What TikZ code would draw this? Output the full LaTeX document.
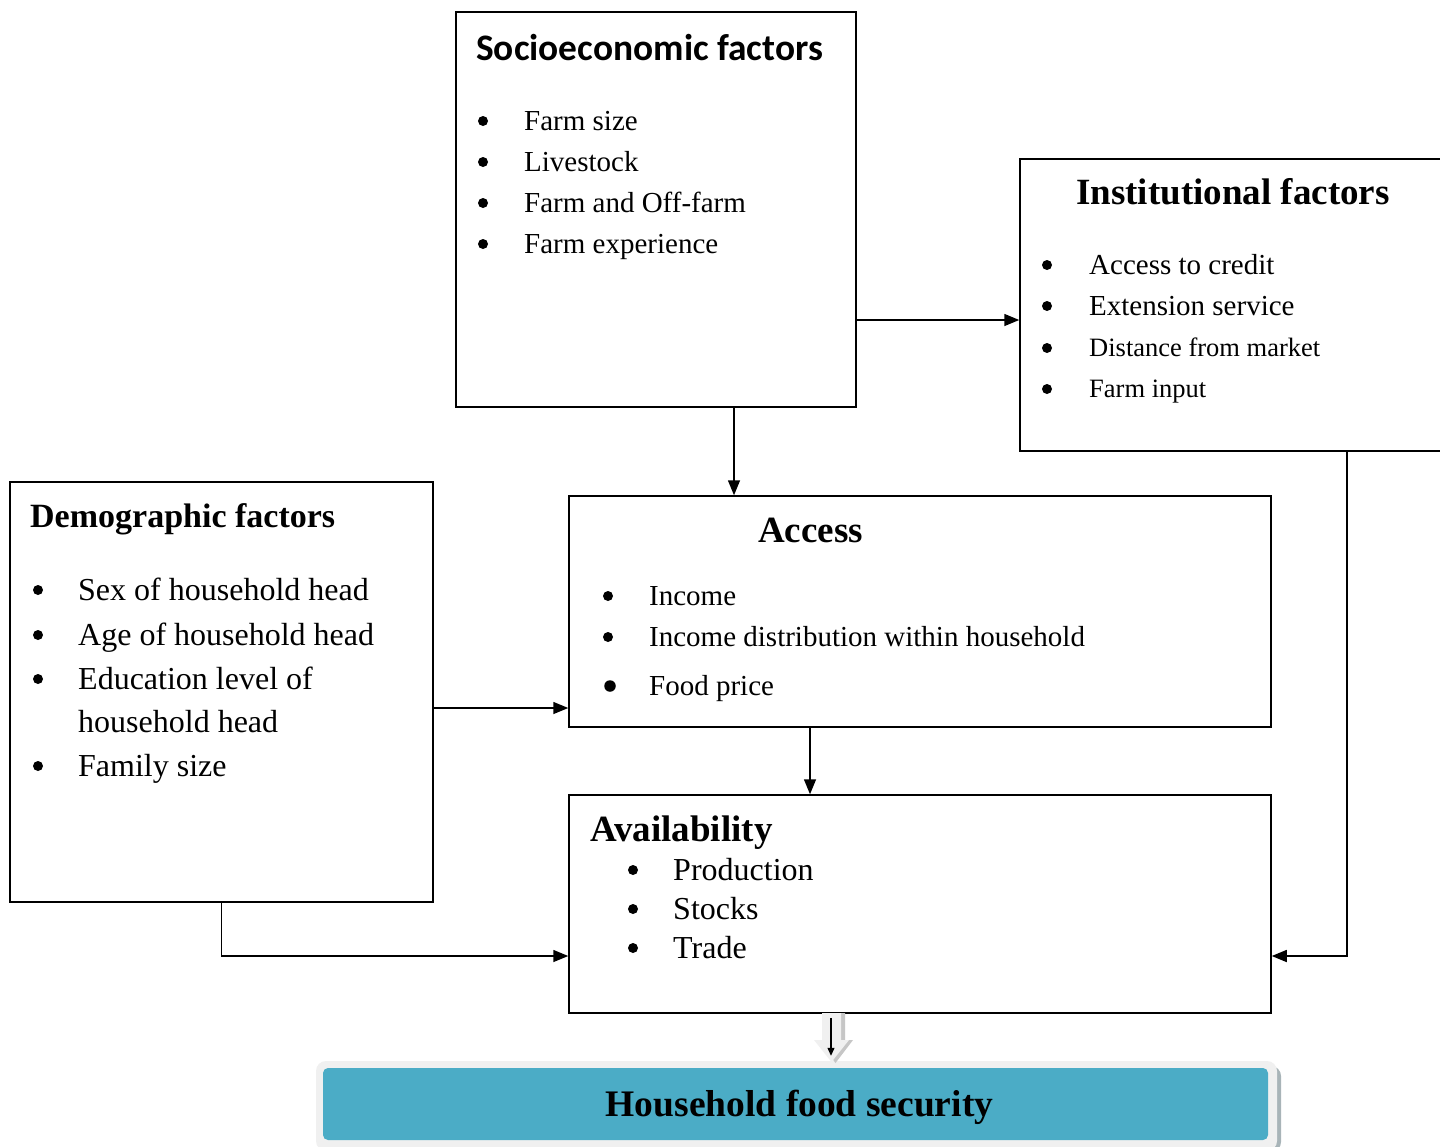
\documentclass[tikz,border=0pt]{standalone}
\usepackage{fontspec}
\setmainfont{Liberation Serif}
\newfontfamily\calibri{Carlito}
\usetikzlibrary{arrows.meta}
\definecolor{teal5}{HTML}{4BACC6}
\definecolor{lightg}{HTML}{F0F0F0}
\definecolor{shadowg}{HTML}{A8B4B8}
\begin{document}
\begin{tikzpicture}[x=1pt,y=-1pt,
 box/.style={draw, line width=1.5pt, rectangle, inner sep=0pt},
 arr/.style={line width=1.5pt, -{Triangle[length=15pt,width=12pt]}},
 bul/.style={circle, fill, inner sep=0pt, minimum size=10pt},
 ttl/.style={anchor=base west, inner sep=0pt, font=\fontsize{37}{44}\selectfont\bfseries},
 itm/.style={anchor=base west, inner sep=0pt, font=\fontsize{29}{35}\selectfont},
 itmS/.style={anchor=base west, inner sep=0pt, font=\fontsize{26.5}{32}\selectfont},
 itmL/.style={anchor=base west, inner sep=0pt, font=\fontsize{32}{38}\selectfont},
]
\useasboundingbox (0,0) rectangle (1440,1146);
\fill[white] (0,0) rectangle (1440,1146);

% boxes
\node[box, minimum width=400pt, minimum height=395pt] (socio) at (656,209.5) {};
\node[box, minimum width=430pt, minimum height=292pt] (inst) at (1235,305) {};
\node[box, minimum width=423pt, minimum height=420pt] (demo) at (221.5,692) {};
\node[box, minimum width=702pt, minimum height=231pt] (access) at (920,611.5) {};
\node[box, minimum width=702pt, minimum height=218pt] (avail) at (920,904) {};

% socioeconomic
\node[anchor=base west, inner sep=0pt, font=\fontsize{37.4}{44}\selectfont\calibri\bfseries] (sT) at (476,60) {Socioeconomic factors};
\foreach \y/\t [count=\i] in {121/Farm size,162/Livestock,203/Farm and Off-farm,244/Farm experience}{
  \node[bul] (sb\i) at (483,\y) {};
  \node[itm] (si\i) at (524,\y+9) {\t};
}

% institutional
\node[ttl] (iT) at (1076,204) {Institutional factors};
\node[bul] (ib1) at (1047,265) {};
\node[bul] (ib2) at (1047,306) {};
\node[bul] (ib3) at (1047,348) {};
\node[bul] (ib4) at (1047,389) {};
\node[itm] (ii1) at (1089,274) {Access to credit};
\node[itm] (ii2) at (1089,315) {Extension service};
\node[itmS] (ii3) at (1089,356) {Distance from market};
\node[itmS] (ii4) at (1089,397) {Farm input};

% demographic
\node[anchor=base west, inner sep=0pt, font=\fontsize{34}{40}\selectfont\bfseries] (dT) at (30,527) {Demographic factors};
\foreach \y [count=\i] in {590,635,679,766}{
  \node[bul] (db\i) at (38,\y) {};
}
\node[itmL] (di1) at (78,600) {Sex of household head};
\node[itmL] (di2) at (78,645) {Age of household head};
\node[itmL] (di3) at (78,689) {Education level of};
\node[itmL] (di3b) at (78,732) {household head};
\node[itmL] (di4) at (78,776) {Family size};

% access
\node[ttl] (aT) at (758,542) {Access};
\node[bul] (ab1) at (608,596) {};
\node[bul] (ab2) at (608,637) {};
\node[bul, minimum size=11.5pt] (ab3) at (610,686) {};
\node[itm] (ai1) at (649,605) {Income};
\node[itm] (ai2) at (649,646) {Income distribution within household};
\node[itm] (ai3) at (649,695) {Food price};

% availability
\node[ttl] (vT) at (590,841) {Availability};
\foreach \y/\t [count=\i] in {870/Production,909/Stocks,948/Trade}{
  \node[bul] (vb\i) at (633,\y) {};
  \node[itmL] (vi\i) at (673,\y+10) {\t};
}

% connectors
\coordinate (c1) at (734,0);
\coordinate (c2) at (0,320);
\coordinate (c3) at (0,708);
\coordinate (c4) at (1347,956);
\coordinate (c5) at (810,0);
\coordinate (c6) at (221.5,956);
\draw[arr] (socio.south -| c1) -- (access.north -| c1);
\draw[arr] (socio.east |- c2) -- (inst.west |- c2);
\draw[arr] (demo.east |- c3) -- (access.west |- c3);
\draw[arr] (demo.south) |- (avail.west |- c6);
\draw[arr] (inst.south -| c4) |- (avail.east |- c4);
\draw[arr] (access.south -| c5) -- (avail.north -| c5);

% household food security
\fill[shadowg, rounded corners=10pt] (320,1066) rectangle (1281,1152);
\node[fill=lightg, rounded corners=10pt, minimum width=961pt, minimum height=90pt, inner sep=0pt] (hfs) at (796.5,1106) {};
\node[fill=teal5, rounded corners=5pt, minimum width=945pt, minimum height=72pt, inner sep=0pt] (hfsin) at (795.5,1104) {};
\node[anchor=base, inner sep=0pt, font=\fontsize{37.5}{42}\selectfont\bfseries] (hfst) at (799.5,1116) {Household food security};

% block arrow
\fill[gray!45] (826,1013) -- (845,1013) -- (845,1040) -- (853,1040) -- (835.5,1063) -- (818,1040) -- (826,1040) -- cycle;
\fill[lightg] (822,1013) -- (841,1013) -- (841,1040) -- (849,1040) -- (831.5,1062) -- (814,1040) -- (822,1040) -- cycle;
\coordinate (c7) at (831,0);
\draw[line width=1.2pt, -{Triangle[length=8pt,width=7pt]}, shorten <=4pt, shorten >=5pt] (avail.south -| c7) -- (hfs.north -| c7);
\end{tikzpicture}
\end{document}
